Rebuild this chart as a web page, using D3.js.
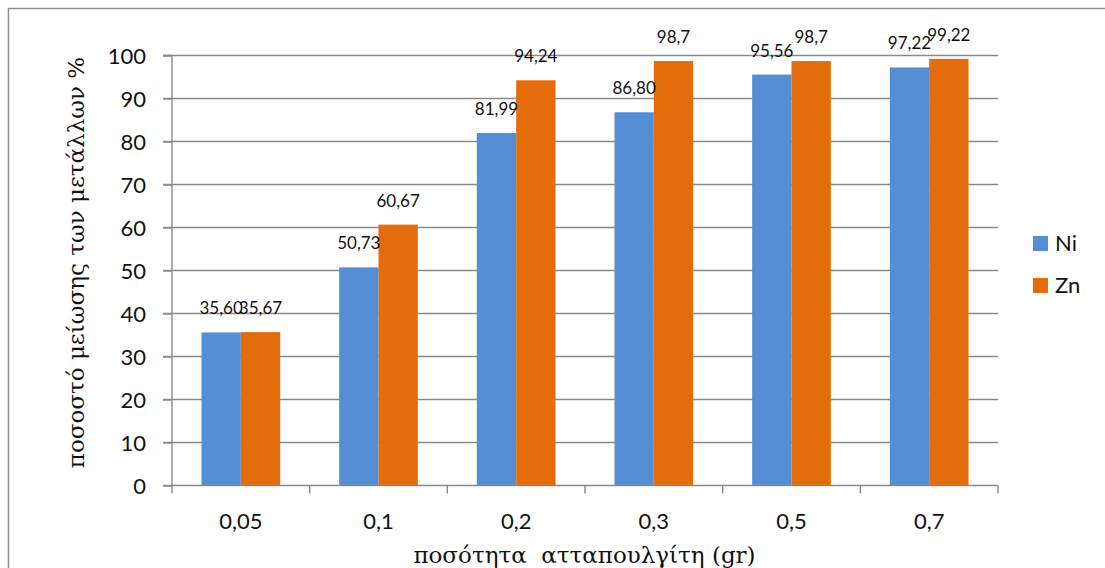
<!DOCTYPE html>
<html><head><meta charset="utf-8">
<script src="https://cdn.jsdelivr.net/npm/d3@7"></script>
<style>
html,body{margin:0;padding:0;background:#fff;}
svg{display:block;}
text{font-family:Lato,"Open Sans",sans-serif;fill:#111;}
.serif{font-family:"DejaVu Serif","Liberation Serif",serif;white-space:pre;}
</style></head>
<body>
<svg id="chart" width="1105" height="568"></svg>
<script>
const categories = ["0,05","0,1","0,2","0,3","0,5","0,7"];
const seriesNames = ["Ni","Zn"];
const niValues = [35.60, 50.73, 81.99, 86.80, 95.56, 97.22];
const znValues = [35.67, 60.67, 94.24, 98.7, 98.7, 99.22];
const niLabels = ["35,60","50,73","81,99","86,80","95,56","97,22"];
const znLabels = ["35,67","60,67","94,24","98,7","98,7","99,22"];
const yTicks = [0,10,20,30,40,50,60,70,80,90,100];
const colors = ["#558ED5","#E46C0A"];
const xTitle = "ποσότητα  ατταπουλγίτη (gr)";
const yTitle = "ποσοστό μείωσης των μετάλλων %";

const svg = d3.select("#chart");
const L = 172, R = 998, T = 55.5, B = 485.5;
const grid = "#8a8a8a";

// outer border
svg.append("rect").attr("x",8.5).attr("y",8.5).attr("width",1120).attr("height",600)
  .attr("fill","none").attr("stroke","#8f8f8f").attr("stroke-width",1.5);

const x = d3.scaleBand().domain(categories).range([L,R]).paddingInner(0).paddingOuter(0);
const y = d3.scaleLinear().domain([0,100]).range([B,T]);
const bw = x.bandwidth()/3.5;
const x1 = d3.scaleBand().domain(seriesNames).range([0.75*bw, 2.75*bw]);

// gridlines
svg.append("g").selectAll("line").data(yTicks.filter(d=>d>0)).join("line")
  .attr("x1",L-9).attr("x2",R).attr("y1",d=>y(d)).attr("y2",d=>y(d))
  .attr("stroke",grid).attr("stroke-width",1.4);

// bars
const data = categories.map((c,i)=>({c, vals:[
  {s:"Ni",v:niValues[i],lab:niLabels[i],col:colors[0]},
  {s:"Zn",v:znValues[i],lab:znLabels[i],col:colors[1]}]}));
const g = svg.append("g");
const grp = g.selectAll("g").data(data).join("g").attr("transform",d=>`translate(${x(d.c)},0)`);
grp.selectAll("rect").data(d=>d.vals).join("rect")
  .attr("x",d=>x1(d.s)).attr("width",x1.bandwidth())
  .attr("y",d=>y(d.v)).attr("height",d=>B-y(d.v)).attr("fill",d=>d.col);
grp.selectAll("text").data(d=>d.vals).join("text")
  .attr("x",d=>x1(d.s)+x1.bandwidth()/2).attr("y",d=>y(d.v)-18)
  .attr("text-anchor","middle").attr("font-size",17).text(d=>d.lab);

// y axis
const yAxis = d3.axisLeft(y).tickValues(yTicks).tickSize(9).tickPadding(17).tickFormat(d3.format("d"));
const ya = svg.append("g").attr("transform",`translate(${L},0)`).call(yAxis);
ya.select(".domain").attr("stroke",grid).attr("stroke-width",1.4).attr("d",`M-9,${T}H0V${B}`);
ya.selectAll(".tick line").attr("stroke",grid).attr("stroke-width",1.4);
ya.selectAll(".tick text").attr("font-size",22).attr("font-family","Lato").attr("fill","#111").attr("dy","0.35em");

// x axis
const xa = svg.append("g").attr("transform",`translate(0,${B})`);
xa.append("line").attr("x1",L-9).attr("x2",R).attr("y1",0).attr("y2",0).attr("stroke",grid).attr("stroke-width",1.4);
const bounds = [...categories.map(c=>x(c)), R];
xa.selectAll(".tk").data(bounds).join("line").attr("class","tk")
  .attr("x1",d=>d).attr("x2",d=>d).attr("y1",0).attr("y2",8).attr("stroke",grid).attr("stroke-width",1.4);
xa.selectAll(".lbl").data(categories).join("text").attr("class","lbl")
  .attr("x",d=>x(d)+x.bandwidth()/2).attr("y",36).attr("dy","0.35em")
  .attr("text-anchor","middle").attr("font-size",22).text(d=>d);

// axis titles
svg.append("text").attr("class","serif").attr("x",(L+R)/2-0.5).attr("y",563)
  .attr("text-anchor","middle").attr("font-size",23).text(xTitle);
svg.append("text").attr("class","serif").attr("transform",`translate(84,${(T+B)/2-8}) rotate(-90)`)
  .attr("text-anchor","middle").attr("font-size",23).text(yTitle);

// legend
const lg = svg.append("g").attr("transform","translate(1033,236)");
seriesNames.forEach((s,i)=>{
  lg.append("rect").attr("x",0).attr("y",i*42).attr("width",15).attr("height",15).attr("fill",colors[i]);
  lg.append("text").attr("x",22).attr("y",i*42+7.5).attr("dy","0.35em").attr("font-size",22).text(s);
});
</script>
</body></html>
